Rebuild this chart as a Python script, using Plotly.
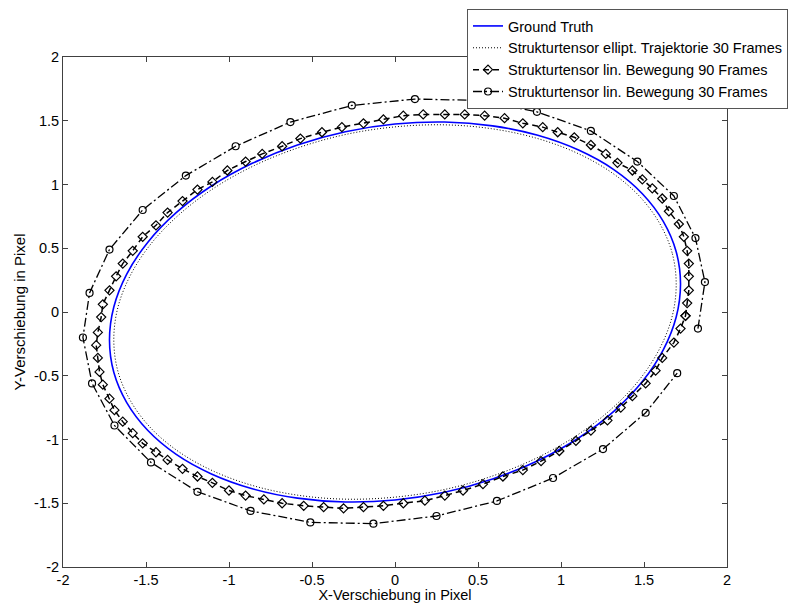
import plotly.graph_objects as go

# ---------------- data ----------------
gt_x = [1.72, 1.694, 1.616, 1.490, 1.318, 1.106, 0.860, 0.588, 0.299, 0.0,
        -0.299, -0.588, -0.860, -1.106, -1.318, -1.490, -1.616, -1.694, -1.72,
        -1.694, -1.616, -1.490, -1.318, -1.106, -0.860, -0.588, -0.299, 0.0,
        0.299, 0.588, 0.860, 1.106, 1.318, 1.490, 1.616, 1.694, 1.72]
gt_y = [0.22, 0.473, 0.711, 0.928, 1.117, 1.270, 1.386, 1.460, 1.490, 1.474,
        1.414, 1.310, 1.166, 0.988, 0.779, 0.546, 0.297, 0.039, -0.22,
        -0.473, -0.711, -0.928, -1.117, -1.270, -1.386, -1.460, -1.490, -1.474,
        -1.414, -1.310, -1.166, -0.988, -0.779, -0.546, -0.297, -0.039, 0.22]

ell_x = [1.694, 1.669, 1.592, 1.468, 1.298, 1.089, 0.847, 0.579, 0.295, 0.0,
         -0.295, -0.579, -0.847, -1.089, -1.298, -1.468, -1.592, -1.669, -1.694,
         -1.669, -1.592, -1.468, -1.298, -1.089, -0.847, -0.579, -0.295, 0.0,
         0.295, 0.579, 0.847, 1.089, 1.298, 1.468, 1.592, 1.669, 1.694]
ell_y = [0.217, 0.466, 0.700, 0.914, 1.100, 1.251, 1.365, 1.438, 1.468, 1.452,
         1.393, 1.290, 1.149, 0.973, 0.767, 0.538, 0.293, 0.038, -0.217,
         -0.466, -0.700, -0.914, -1.100, -1.251, -1.365, -1.438, -1.468, -1.452,
         -1.393, -1.290, -1.149, -0.973, -0.767, -0.538, -0.293, -0.038, 0.217]

lin90_x = [1.75, 1.76, 1.77, 1.77, 1.77, 1.76, 1.74, 1.71, 1.65, 1.61,
           1.55, 1.49, 1.43, 1.34, 1.27, 1.18, 1.08, 0.98, 0.89, 0.77,
           0.66, 0.54, 0.42, 0.30, 0.17, 0.05, -0.07, -0.19, -0.32, -0.44,
           -0.57, -0.68, -0.80, -0.90, -1.01, -1.10, -1.19, -1.28, -1.37, -1.44,
           -1.52, -1.58, -1.64, -1.68, -1.72, -1.76, -1.77, -1.79, -1.80, -1.79,
           -1.78, -1.76, -1.72, -1.69, -1.64, -1.58, -1.52, -1.44, -1.37, -1.28,
           -1.19, -1.10, -1.00, -0.90, -0.79, -0.68, -0.55, -0.43, -0.31, -0.19,
           -0.07, 0.05, 0.18, 0.30, 0.41, 0.53, 0.65, 0.77, 0.88, 0.99,
           1.09, 1.18, 1.28, 1.36, 1.43, 1.51, 1.57, 1.61, 1.68, 1.72, 1.75]
lin90_y = [-0.03, 0.07, 0.17, 0.28, 0.38, 0.48, 0.59, 0.69, 0.79, 0.89,
           0.97, 1.04, 1.11, 1.17, 1.24, 1.31, 1.37, 1.41, 1.45, 1.48,
           1.52, 1.54, 1.55, 1.55, 1.55, 1.54, 1.51, 1.48, 1.45, 1.41,
           1.36, 1.30, 1.24, 1.18, 1.11, 1.02, 0.96, 0.87, 0.78, 0.68,
           0.59, 0.48, 0.38, 0.28, 0.17, 0.06, -0.04, -0.16, -0.26, -0.36,
           -0.47, -0.57, -0.68, -0.77, -0.86, -0.95, -1.03, -1.10, -1.16, -1.23,
           -1.29, -1.34, -1.40, -1.44, -1.47, -1.50, -1.52, -1.53, -1.54, -1.53,
           -1.52, -1.50, -1.48, -1.44, -1.40, -1.35, -1.29, -1.24, -1.17, -1.09,
           -1.01, -0.93, -0.85, -0.75, -0.66, -0.56, -0.46, -0.36, -0.24, -0.13, -0.03]

lin30_x = [1.825, 1.867, 1.81, 1.68, 1.46, 1.18, 0.855, 0.50, 0.12, -0.26,
           -0.63, -0.96, -1.26, -1.52, -1.72, -1.84, -1.88, -1.825, -1.69, -1.47,
           -1.19, -0.87, -0.51, -0.13, 0.25, 0.614, 0.952, 1.253, 1.51, 1.70]
lin30_y = [-0.13, 0.235, 0.58, 0.91, 1.18, 1.42, 1.57, 1.66, 1.67, 1.62,
           1.49, 1.30, 1.07, 0.80, 0.49, 0.15, -0.20, -0.56, -0.89, -1.18,
           -1.41, -1.56, -1.65, -1.66, -1.60, -1.482, -1.302, -1.075, -0.79, -0.48]

tick_vals = [-2, -1.5, -1, -0.5, 0, 0.5, 1, 1.5, 2]
tick_text = ["-2", "-1.5", "-1", "-0.5", "0", "0.5", "1", "1.5", "2"]

names = ["Ground Truth",
         "Strukturtensor ellipt. Trajektorie 30 Frames",
         "Strukturtensor lin. Bewegung 90 Frames",
         "Strukturtensor lin. Bewegung 30 Frames"]

FONT = "Liberation Sans, Arial, sans-serif"

fig = go.Figure()
fig.add_trace(go.Scatter(x=gt_x, y=gt_y, mode="lines", name=names[0],
                         line=dict(color="#0000FF", width=1.6, shape="spline")))
fig.add_trace(go.Scatter(x=ell_x, y=ell_y, mode="lines", name=names[1],
                         line=dict(color="black", width=1, dash="1px,2px", shape="spline")))
fig.add_trace(go.Scatter(x=lin90_x, y=lin90_y, mode="lines+markers", name=names[2],
                         line=dict(color="black", width=1.5, dash="6px,4px"),
                         marker=dict(symbol="diamond-open", size=7, color="black",
                                     line=dict(width=1.2, color="black"))))
fig.add_trace(go.Scatter(x=lin30_x, y=lin30_y, mode="lines+markers", name=names[3],
                         line=dict(color="black", width=1.3, dash="9px,3px,2px,3px"),
                         marker=dict(symbol="circle-open", size=7, color="black",
                                     line=dict(width=1.2, color="black"))))

axis_common = dict(
    range=[-2, 2], tickvals=tick_vals, ticktext=tick_text,
    ticks="inside", ticklen=5, tickwidth=1, tickcolor="#404040",
    showline=True, linecolor="#404040", linewidth=1, mirror="ticks",
    showgrid=False, zeroline=False,
    tickfont=dict(family=FONT, size=14.5, color="black"),
)

fig.update_layout(
    width=790, height=603,
    margin=dict(l=63, r=63, t=57, b=36, autoexpand=False),
    paper_bgcolor="white", plot_bgcolor="white",
    font=dict(family=FONT, size=14.5, color="black"),
    xaxis=dict(**axis_common,
               title=dict(text="X-Verschiebung in Pixel", standoff=2,
                          font=dict(family=FONT, size=14.5, color="black"))),
    yaxis=dict(**axis_common,
               title=dict(text="Y-Verschiebung in Pixel", standoff=4,
                          font=dict(family=FONT, size=15, color="black"))),
    legend=dict(x=(467 - 63) / 664, y=(567 - 9) / 510, xanchor="left", yanchor="top",
                bgcolor="white", bordercolor="#555555", borderwidth=1,
                font=dict(family=FONT, size=14.5, color="black"),
                tracegroupgap=0, itemwidth=30),
    showlegend=True,
)

fig.write_html("out.html")
